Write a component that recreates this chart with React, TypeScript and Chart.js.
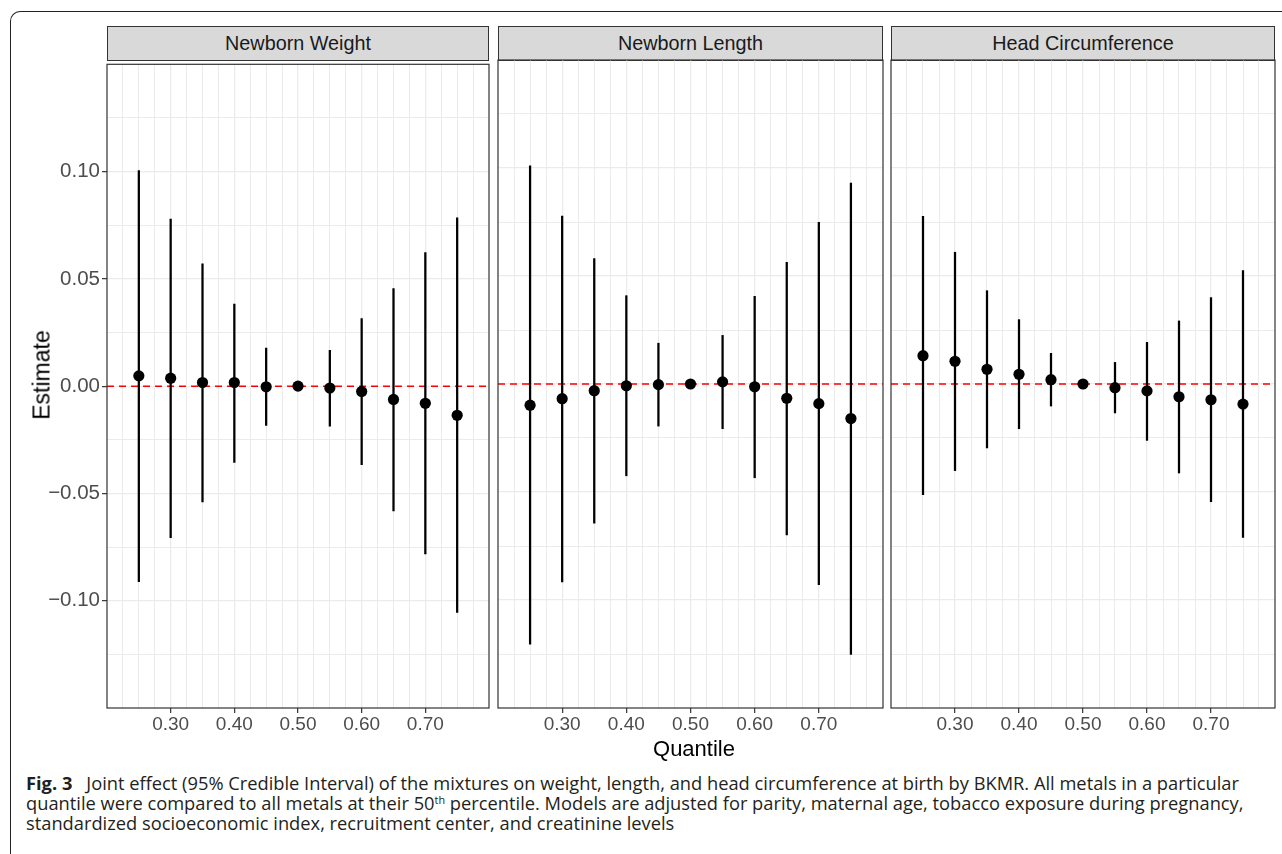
import React, { useEffect, useLayoutEffect, useRef } from 'react';
import { Chart, registerables } from 'chart.js';

Chart.register(...registerables);

// ---------- data ----------
const QUANTILES = [0.25, 0.3, 0.35, 0.4, 0.45, 0.5, 0.55, 0.6, 0.65, 0.7, 0.75];
const PANEL_TITLES = ['Newborn Weight', 'Newborn Length', 'Head Circumference'];

const WEIGHT_EST = [0.0048, 0.0037, 0.0017, 0.0017, -0.0003, 0, -0.0009, -0.0025, -0.0062, -0.008, -0.0136];
const WEIGHT_LOW = [-0.0911, -0.0706, -0.054, -0.0355, -0.0183, 0, -0.0187, -0.0366, -0.0582, -0.0782, -0.1054];
const WEIGHT_HIGH = [0.1005, 0.0779, 0.057, 0.0383, 0.0177, 0, 0.0167, 0.0315, 0.0455, 0.0622, 0.0784];

const LENGTH_EST = [-0.0098, -0.0068, -0.0031, -0.0008, -0.0003, 0, 0.001, -0.0013, -0.0066, -0.0091, -0.016];
const LENGTH_LOW = [-0.1205, -0.0916, -0.0644, -0.0425, -0.0195, 0, -0.0207, -0.0434, -0.0699, -0.0929, -0.1252];
const LENGTH_HIGH = [0.101, 0.0777, 0.0581, 0.0409, 0.0189, 0, 0.0225, 0.0406, 0.0563, 0.0748, 0.093];

const HEAD_EST = [0.0131, 0.0105, 0.0068, 0.0045, 0.002, 0, -0.0017, -0.0032, -0.0059, -0.0073, -0.0093];
const HEAD_LOW = [-0.0512, -0.0401, -0.0296, -0.0207, -0.0102, 0, -0.0134, -0.0261, -0.0412, -0.0545, -0.071];
const HEAD_HIGH = [0.0776, 0.061, 0.0432, 0.0298, 0.0142, 0, 0.01, 0.0193, 0.0292, 0.04, 0.0525];

const Y_LABELED = [-0.1, -0.05, 0, 0.05, 0.1];
const Y_GRID = [-0.125, -0.1, -0.075, -0.05, -0.025, 0, 0.025, 0.05, 0.075, 0.1, 0.125];
const X_LABELED = [0.3, 0.4, 0.5, 0.6, 0.7];
const X_GRID = [
  0.225, 0.25, 0.275, 0.3, 0.325, 0.35, 0.375, 0.4, 0.425, 0.45, 0.475, 0.5,
  0.525, 0.55, 0.575, 0.6, 0.625, 0.65, 0.675, 0.7, 0.725, 0.75, 0.775,
];
const X_MIN = 0.2;
const X_MAX = 0.8;
const Y_MIN = -0.15;
const Y_MAX = 0.15;
const REF_LINE = 0;

const CAPTION_LINES = [
  'Joint effect (95% Credible Interval) of the mixtures on weight, length, and head circumference at birth by BKMR. All metals in a particular',
  'quantile were compared to all metals at their 50',
  ' percentile. Models are adjusted for parity, maternal age, tobacco exposure during pregnancy,',
  'standardized socioeconomic index, recruitment center, and creatinine levels',
];

// ---------- layout ----------
const PANELS = [
  { left: 107, width: 382, est: WEIGHT_EST, low: WEIGHT_LOW, high: WEIGHT_HIGH, showY: true },
  { left: 498, width: 385, est: LENGTH_EST, low: LENGTH_LOW, high: LENGTH_HIGH, showY: false },
  { left: 891, width: 384, est: HEAD_EST, low: HEAD_LOW, high: HEAD_HIGH, showY: false },
];
const AREA_TOP = 60;
const AREA_BOTTOM = 708;
const CANVAS_TOP = 50;
const X_AXIS_H = 34;
const PAD = 4;
const Y_AXIS_W = 107;

const isIn = (arr: number[], v: number) => arr.some((t) => Math.abs(t - v) < 1e-9);
const fmt = (v: number) => (v < 0 ? '\u2212' : '') + Math.abs(v).toFixed(2);

const panelBorder = {
  id: 'panelBorder',
  afterDraw(chart: any) {
    const { ctx, chartArea: a } = chart;
    ctx.save();
    ctx.strokeStyle = '#333333';
    ctx.lineWidth = 1.2;
    ctx.strokeRect(a.left, a.top, a.right - a.left, a.bottom - a.top);
    ctx.restore();
  },
};

function Panel({ idx }: { idx: number }) {
  const ref = useRef<HTMLCanvasElement>(null);
  const p = PANELS[idx];
  const canvasLeft = p.showY ? 0 : p.left - PAD;
  const canvasWidth = p.showY ? Y_AXIS_W + p.width + PAD : p.width + 2 * PAD;
  const canvasHeight = AREA_BOTTOM - CANVAS_TOP + X_AXIS_H;

  useEffect(() => {
    if (!ref.current) return;
    const chart = new Chart(ref.current, {
      type: 'scatter',
      data: {
        datasets: [
          {
            type: 'scatter',
            data: QUANTILES.map((x, i) => ({ x, y: p.est[i] })),
            pointRadius: 5.6,
            pointHoverRadius: 5.6,
            backgroundColor: '#000000',
            borderColor: '#000000',
            borderWidth: 0,
            order: 1,
          },
          {
            type: 'bar',
            data: QUANTILES.map((x, i) => ({ x, y: [p.low[i], p.high[i]] })),
            backgroundColor: '#000000',
            borderWidth: 0,
            barThickness: 1.6,
            grouped: false,
            order: 2,
          },
          {
            type: 'line',
            data: [
              { x: X_MIN, y: REF_LINE },
              { x: X_MAX, y: REF_LINE },
            ],
            borderColor: '#FF0000',
            borderWidth: 1.5,
            borderDash: [7, 5],
            pointRadius: 0,
            order: 3,
          },
        ],
      } as any,
      options: {
        animation: false,
        responsive: false,
        devicePixelRatio: 1,
        events: [],
        layout: {
          autoPadding: false,
          padding: { left: p.showY ? 0 : PAD, right: PAD, top: AREA_TOP - CANVAS_TOP, bottom: 0 },
        },
        plugins: { legend: { display: false }, tooltip: { enabled: false } },
        scales: {
          x: {
            type: 'linear',
            min: X_MIN,
            max: X_MAX,
            offset: false,
            afterBuildTicks: (s: any) => {
              s.ticks = X_GRID.map((v) => ({ value: v }));
            },
            afterFit: (s: any) => {
              s.height = X_AXIS_H;
            },
            border: { display: false },
            grid: {
              offset: false,
              color: '#EBEBEB',
              lineWidth: (c: any) => (c.tick && isIn(X_LABELED, c.tick.value) ? 1.3 : 1),
              tickColor: (c: any) => (c.tick && isIn(X_LABELED, c.tick.value) ? '#333333' : 'rgba(0,0,0,0)'),
              tickLength: 5,
              tickWidth: 1.2,
            },
            ticks: {
              autoSkip: false,
              maxRotation: 0,
              minRotation: 0,
              padding: 0,
              color: '#4D4D4D',
              font: { family: 'Liberation Sans', size: 19 },
              callback: (v: any) => (isIn(X_LABELED, Number(v)) ? Number(v).toFixed(2) : ''),
            },
          },
          y: {
            type: 'linear',
            min: Y_MIN,
            max: Y_MAX,
            afterBuildTicks: (s: any) => {
              s.ticks = Y_GRID.map((v) => ({ value: v }));
            },
            afterFit: (s: any) => {
              s.width = p.showY ? Y_AXIS_W : 0;
            },
            border: { display: false },
            grid: {
              color: '#EBEBEB',
              lineWidth: (c: any) => (c.tick && isIn(Y_LABELED, c.tick.value) ? 1.3 : 1),
              tickColor: (c: any) =>
                p.showY && c.tick && isIn(Y_LABELED, c.tick.value) ? '#333333' : 'rgba(0,0,0,0)',
              drawTicks: p.showY,
              tickLength: 5,
              tickWidth: 1.2,
            },
            ticks: {
              display: p.showY,
              autoSkip: false,
              padding: 2,
              color: '#4D4D4D',
              font: { family: 'Liberation Sans', size: 20.5 },
              callback: (v: any) => (isIn(Y_LABELED, Number(v)) ? fmt(Number(v)) : ''),
            },
          },
        },
      } as any,
      plugins: [panelBorder],
    });
    return () => chart.destroy();
  }, []);

  return (
    <>
      <div
        style={{
          position: 'absolute',
          left: p.left,
          top: 26,
          width: p.width,
          height: 35,
          boxSizing: 'border-box',
          border: '1.2px solid #333333',
          background: '#D9D9D9',
          color: '#1A1A1A',
          font: '19.8px "Liberation Sans", Arial, sans-serif',
          lineHeight: '32px',
          textAlign: 'center',
          whiteSpace: 'nowrap',
        }}
      >
        {PANEL_TITLES[idx]}
      </div>
      <canvas
        ref={ref}
        width={canvasWidth}
        height={canvasHeight}
        style={{
          position: 'absolute',
          left: canvasLeft,
          top: CANVAS_TOP,
          width: canvasWidth,
          height: canvasHeight,
          display: 'block',
        }}
      />
    </>
  );
}

function Caption() {
  const ref = useRef<HTMLDivElement>(null);
  useLayoutEffect(() => {
    const el = ref.current;
    if (!el) return;
    const first = el.querySelector('[data-line="0"]') as HTMLElement;
    const w = first.getBoundingClientRect().width;
    if (w > 0) el.style.transform = `scaleX(${1213 / w})`;
  }, []);
  const lineStyle: React.CSSProperties = { whiteSpace: 'nowrap', display: 'block', height: 20 };
  return (
    <div
      ref={ref}
      style={{
        position: 'absolute',
        left: 26,
        top: 773,
        transformOrigin: '0 0',
        font: '18.5px "Open Sans", sans-serif',
        lineHeight: '20px',
        color: '#231F20',
      }}
    >
      <span data-line="0" style={{ ...lineStyle, display: 'inline-block' }}>
        <b>Fig. 3</b>
        {'\u2002 '}
        {CAPTION_LINES[0]}
      </span>
      <span style={lineStyle}>
        {CAPTION_LINES[1]}
        <sup style={{ fontSize: 11, lineHeight: 0, verticalAlign: '6px', color: '#231F20' }}>th</sup>
        {CAPTION_LINES[2]}
      </span>
      <span style={lineStyle}>{CAPTION_LINES[3]}</span>
    </div>
  );
}

export default function App() {
  return (
    <div
      style={{
        position: 'absolute',
        left: 0,
        top: 0,
        width: 1282,
        height: 854,
        overflow: 'hidden',
        background: '#FFFFFF',
        fontFamily: '"Liberation Sans", Arial, sans-serif',
      }}
    >
      <div
        style={{
          position: 'absolute',
          left: 10,
          top: 11,
          width: 1320,
          height: 900,
          borderTop: '1px solid #222222',
          borderLeft: '1px solid #222222',
          borderTopLeftRadius: 10,
        }}
      />
      {PANELS.map((_, i) => (
        <Panel key={i} idx={i} />
      ))}
      <div
        style={{
          position: 'absolute',
          left: 42,
          top: 375,
          transform: 'translate(-50%, -50%) rotate(-90deg)',
          font: '23px "Liberation Sans", Arial, sans-serif',
          lineHeight: '23px',
          color: '#000000',
          whiteSpace: 'nowrap',
        }}
      >
        Estimate
      </div>
      <div
        style={{
          position: 'absolute',
          left: 694,
          top: 738,
          transform: 'translateX(-50%)',
          font: '22px "Liberation Sans", Arial, sans-serif',
          lineHeight: '22px',
          color: '#000000',
          whiteSpace: 'nowrap',
        }}
      >
        Quantile
      </div>
      <Caption />
    </div>
  );
}
